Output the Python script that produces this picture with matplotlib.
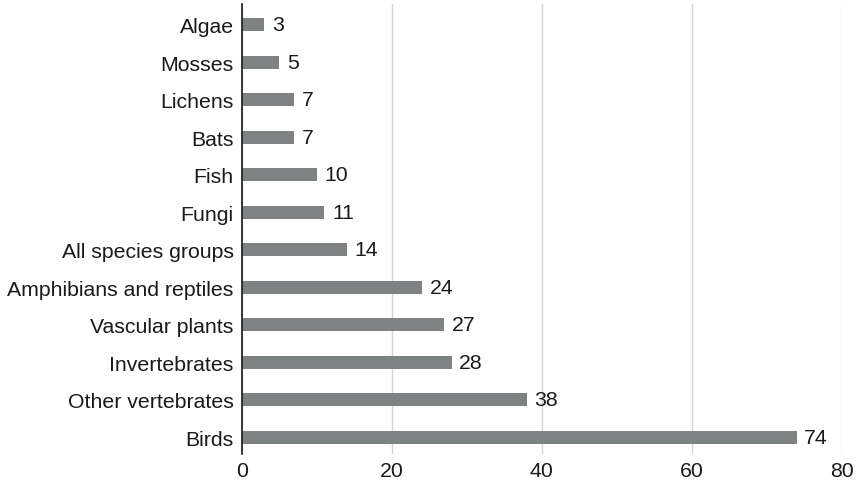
import matplotlib
matplotlib.use('Agg')
import matplotlib.pyplot as plt

plt.rcParams['font.family'] = ['Liberation Sans', 'DejaVu Sans']

groups = ["Birds", "Other vertebrates", "Invertebrates", "Vascular plants",
          "Amphibians and reptiles", "All species groups", "Fungi", "Fish",
          "Bats", "Lichens", "Mosses", "Algae"]
counts = [74, 38, 28, 27, 24, 14, 11, 10, 7, 7, 5, 3]

fs = 15.3
fig = plt.figure(figsize=(8.58, 4.85), dpi=100)
ax = fig.add_axes([0.282, 0.062, 0.699, 0.928])

ypos = list(range(len(groups)))
ax.barh(ypos, counts, height=0.35, color='#7f8283', zorder=3)
for y, v in zip(ypos, counts):
    ax.text(v + 1.0, y, str(v), va='center', ha='left', fontsize=fs, color='#1a1a1a')

ax.set_yticks(ypos)
ax.set_yticklabels(groups, fontsize=fs, color='#1a1a1a')
ax.set_xlim(0, 80)
ax.set_ylim(-0.45, 11.56)
ax.set_xticks([0, 20, 40, 60, 80])
ax.tick_params(axis='x', labelsize=fs, colors='#1a1a1a', length=0, pad=5)
ax.tick_params(axis='y', length=0, pad=6)
ax.grid(axis='x', color='#d4d4d4', linewidth=1, zorder=0)

for s in ['top', 'right', 'bottom']:
    ax.spines[s].set_visible(False)
ax.spines['left'].set_color('#1a1a1a')
ax.spines['left'].set_linewidth(1.2)
ax.spines['left'].set_zorder(4)

fig.savefig('out.png', dpi=100)
